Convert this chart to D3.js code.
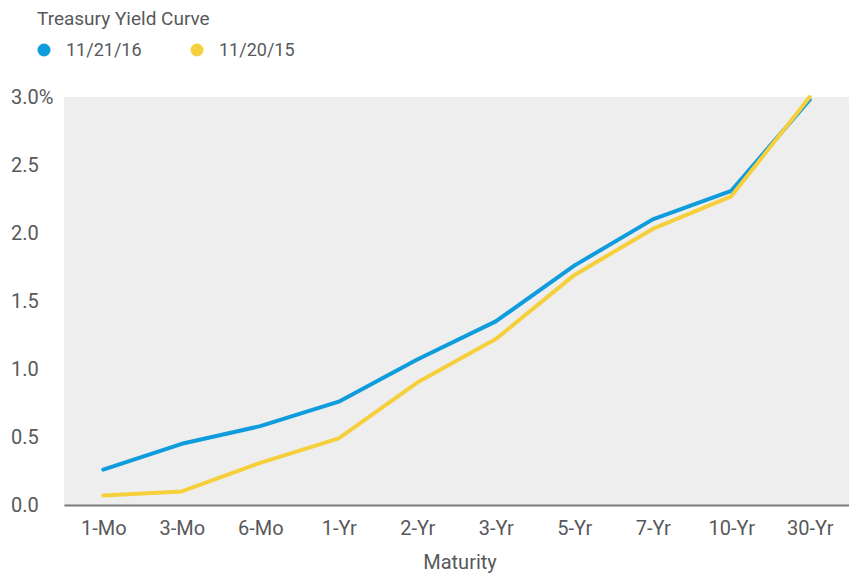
<!DOCTYPE html>
<html>
<head>
<meta charset="utf-8">
<script src="https://cdn.jsdelivr.net/npm/d3@7"></script>
<style>
  body { margin: 0; background: #fff; }
  text { font-family: Roboto, sans-serif; fill: #58595b; }
</style>
</head>
<body>
<svg id="chart" width="849" height="574"></svg>
<script>
const maturities = ['1-Mo', '3-Mo', '6-Mo', '1-Yr', '2-Yr', '3-Yr', '5-Yr', '7-Yr', '10-Yr', '30-Yr'];
const yields2016 = [0.26, 0.45, 0.58, 0.76, 1.07, 1.35, 1.76, 2.10, 2.31, 2.98];
const yields2015 = [0.07, 0.10, 0.31, 0.49, 0.90, 1.22, 1.69, 2.03, 2.27, 3.00];
const yTicks = [0, 0.5, 1.0, 1.5, 2.0, 2.5, 3.0];
const seriesNames = ['11/21/16', '11/20/15'];
const seriesColors = ['#0f9cdc', '#f6cf3d'];

const width = 849;
const height = 574;
const margin = { top: 97, right: 0, bottom: 69, left: 64 };
const innerWidth = width - margin.left - margin.right;
const innerHeight = height - margin.top - margin.bottom;

const svg = d3.select('#chart');

svg.append('text')
  .text('Treasury Yield Curve')
  .attr('x', 37)
  .attr('y', 25)
  .attr('font-size', '19px');

const legend = svg.append('g').attr('transform', 'translate(44,50)');
seriesNames.forEach((name, i) => {
  const g = legend.append('g').attr('transform', `translate(${i * 153},0)`);
  g.append('circle').attr('r', 6.5).attr('fill', seriesColors[i]);
  g.append('text')
    .text(name)
    .attr('x', 22)
    .attr('dy', '0.36em')
    .attr('font-size', '18px');
});

const body = svg.append('g')
  .attr('transform', 'translate(' + margin.left + ',' + margin.top + ')');

body.append('rect')
  .attr('width', innerWidth)
  .attr('height', innerHeight)
  .attr('fill', '#eeeeee');

const xScale = d3.scalePoint()
  .domain(maturities)
  .range([0, innerWidth])
  .padding(0.5);

const yScale = d3.scaleLinear()
  .domain([0, 3])
  .range([innerHeight, 0]);

const xAxis = d3.axisBottom(xScale).tickSize(0).tickPadding(16);
const gx = body.append('g')
  .attr('transform', 'translate(0,' + innerHeight + ')')
  .call(xAxis);
gx.select('.domain').attr('stroke', '#7a7a7a').attr('stroke-width', 2);
gx.selectAll('text')
  .attr('font-size', '20px')
  .attr('font-family', null)
  .attr('fill', null);

const yAxis = d3.axisLeft(yScale)
  .tickValues(yTicks)
  .tickSize(0)
  .tickFormat(d => d === 3 ? '3.0%' : d3.format('.1f')(d));
const gy = body.append('g').call(yAxis);
gy.select('.domain').remove();
gy.selectAll('text')
  .attr('x', -53)
  .attr('text-anchor', 'start')
  .attr('font-size', '20px')
  .attr('font-family', null)
  .attr('fill', null);

const line = d3.line()
  .x((d, i) => xScale(maturities[i]))
  .y(d => yScale(d));

[yields2016, yields2015].forEach((series, i) => {
  body.append('path')
    .datum(series)
    .attr('d', line)
    .attr('fill', 'none')
    .attr('stroke', seriesColors[i])
    .attr('stroke-width', 4)
    .attr('stroke-linejoin', 'round')
    .attr('stroke-linecap', 'round');
});

svg.append('text')
  .text('Maturity')
  .attr('x', 460)
  .attr('y', 569)
  .attr('text-anchor', 'middle')
  .attr('font-size', '20px');
</script>
</body>
</html>
